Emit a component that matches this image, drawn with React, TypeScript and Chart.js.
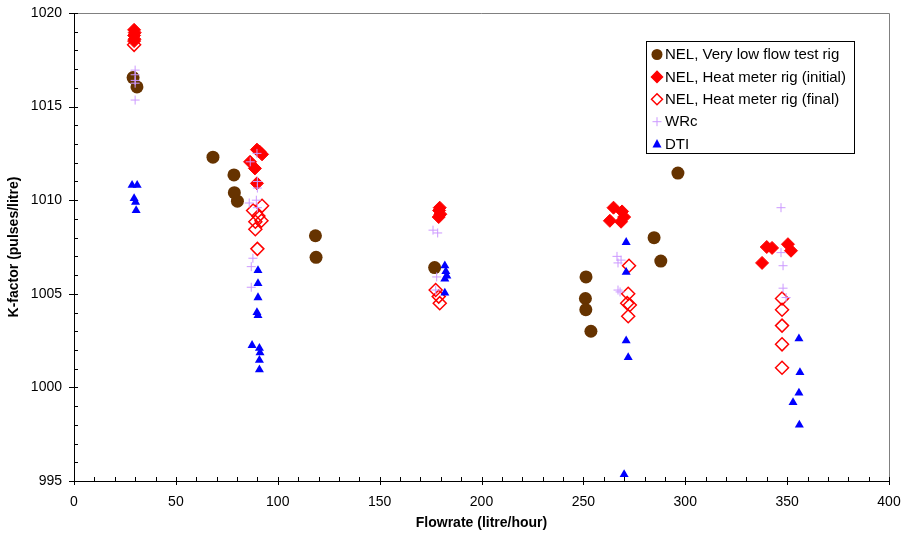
import React, { useEffect, useRef } from "react";
import { Chart, registerables } from "chart.js";
Chart.register(...registerables);

// ---- data ----
const X_MIN = 0, X_MAX = 400, X_STEP = 50, X_MINOR = 10;
const Y_MIN = 995, Y_MAX = 1020, Y_STEP = 5, Y_MINOR = 1;
const X_TITLE = "Flowrate (litre/hour)";
const Y_TITLE = "K-factor (pulses/litre)";

const SERIES_NAMES = [
  "NEL, Very low flow test rig",
  "NEL, Heat meter rig (initial)",
  "NEL, Heat meter rig (final)",
  "WRc",
  "DTI",
];

const vlfX = [29.0, 30.9, 68.2, 78.5, 78.7, 80.2, 118.5, 118.8, 177, 251.3, 251, 251.2, 253.7, 284.7, 288, 296.4];
const vlfY = [1016.55, 1016.05, 1012.3, 1011.35, 1010.4, 1009.95, 1008.1, 1006.95, 1006.4, 1005.9, 1004.75, 1004.15, 1003.0, 1008.0, 1006.75, 1011.45];

const initX = [29.5, 29.8, 29.5, 29.7, 29.5, 89.8, 92.3, 86.4, 88.8, 89.8, 91.0, 179.5, 179.2, 179.8, 179.0, 263, 264.8, 269, 270, 268.5, 337.7, 340, 342.6, 350.4, 351.9];
const initY = [1019.1, 1018.95, 1018.8, 1018.6, 1018.5, 1012.7, 1012.45, 1012.05, 1011.7, 1010.9, 1012.6, 1009.6, 1009.45, 1009.25, 1009.1, 1008.9, 1009.6, 1009.4, 1009.1, 1008.85, 1006.65, 1007.5, 1007.45, 1007.65, 1007.3];

const finalX = [29.5, 87.9, 92.3, 90.5, 89.0, 92.0, 89.0, 90.0, 177.5, 179.0, 179.5, 272.4, 272.0, 271.5, 272.8, 272.0, 347.5, 347.5, 347.5, 347.5, 347.5];
const finalY = [1018.3, 1009.45, 1009.7, 1009.15, 1008.85, 1008.9, 1008.45, 1007.4, 1005.2, 1004.85, 1004.5, 1006.5, 1005.0, 1004.5, 1004.4, 1003.8, 1004.75, 1004.15, 1003.3, 1002.3, 1001.05];

const wrcX = [30, 30, 30, 30, 30, 89.8, 86.5, 90, 90, 89.5, 86, 90, 87.8, 87, 87, 176.2, 178.5, 178, 177.5, 266.5, 268.5, 267, 267, 268, 347, 347, 348, 348, 349.5];
const wrcY = [1016.95, 1016.7, 1016.4, 1016.25, 1015.35, 1012.5, 1012.05, 1011.0, 1010.65, 1010.0, 1009.85, 1009.6, 1006.9, 1006.45, 1005.35, 1008.4, 1008.25, 1005.9, 1005.2, 1007.0, 1006.8, 1006.65, 1005.2, 1005.1, 1009.6, 1007.2, 1006.5, 1005.3, 1004.8];

const dtiX = [28.5, 31, 29.5, 30.2, 30.5, 90.3, 90.3, 90.3, 89.8, 90.3, 87.4, 91, 91.3, 91, 91, 182, 182.5, 183, 182, 182, 271, 271, 271, 272, 270, 355.8, 356.3, 355.8, 352.9, 356];
const dtiY = [1010.8, 1010.8, 1010.1, 1009.9, 1009.45, 1006.25, 1005.55, 1004.8, 1004.0, 1003.85, 1002.25, 1002.1, 1001.85, 1001.45, 1000.95, 1006.5, 1006.2, 1005.95, 1005.8, 1005.05, 1007.75, 1006.15, 1002.5, 1001.6, 995.35, 1002.6, 1000.8, 999.7, 999.2, 998.0];

const BROWN = "#663300";
const RED = "#ff0000";
const PLUM = "#cc99ff";
const BLUE = "#0000ff";
const FONT = "'Liberation Sans', Arial, sans-serif";

const pts = (xs: number[], ys: number[]) => xs.map((x, i) => ({ x, y: ys[i] }));

function drawMarker(ctx: CanvasRenderingContext2D, kind: number, x: number, y: number) {
  ctx.save();
  ctx.beginPath();
  if (kind === 0) {
    ctx.arc(x, y, 5.5, 0, Math.PI * 2);
    ctx.fillStyle = BROWN;
    ctx.fill();
  } else if (kind === 1 || kind === 2) {
    const r = 5.5;
    ctx.moveTo(x, y - r);
    ctx.lineTo(x + r, y);
    ctx.lineTo(x, y + r);
    ctx.lineTo(x - r, y);
    ctx.closePath();
    ctx.strokeStyle = RED;
    ctx.lineWidth = 1.5;
    if (kind === 1) {
      ctx.fillStyle = RED;
      ctx.fill();
    }
    ctx.stroke();
  } else if (kind === 3) {
    ctx.moveTo(x - 4.5, y);
    ctx.lineTo(x + 4.5, y);
    ctx.moveTo(x, y - 4.5);
    ctx.lineTo(x, y + 4.5);
    ctx.strokeStyle = PLUM;
    ctx.lineWidth = 1;
    ctx.stroke();
  } else {
    ctx.moveTo(x, y - 5);
    ctx.lineTo(x + 4.5, y + 3.5);
    ctx.lineTo(x - 4.5, y + 3.5);
    ctx.closePath();
    ctx.fillStyle = BLUE;
    ctx.fill();
  }
  ctx.restore();
}

const decorPlugin = {
  id: "decor",
  afterDraw(chart: any) {
    const ctx: CanvasRenderingContext2D = chart.ctx;
    const { left, right, top, bottom } = chart.chartArea;
    const xs = chart.scales.x;
    const ys = chart.scales.y;
    ctx.save();
    // gray top/right border
    ctx.strokeStyle = "#808080";
    ctx.lineWidth = 1;
    ctx.beginPath();
    ctx.moveTo(left, top + 0.5);
    ctx.lineTo(right + 0.5, top + 0.5);
    ctx.lineTo(right + 0.5, bottom);
    ctx.stroke();
    // ticks
    ctx.strokeStyle = "#000";
    ctx.beginPath();
    for (let v = Y_MIN; v <= Y_MAX + 1e-9; v += Y_MINOR) {
      const py = Math.round(ys.getPixelForValue(v)) + 0.5;
      const major = Math.abs((v - Y_MIN) % Y_STEP) < 1e-9;
      ctx.moveTo(left - (major ? 5 : 0), py);
      ctx.lineTo(left + 4, py);
    }
    for (let v = X_MIN; v <= X_MAX + 1e-9; v += X_MINOR) {
      const px = Math.round(xs.getPixelForValue(v)) + 0.5;
      const major = Math.abs((v - X_MIN) % X_STEP) < 1e-9;
      ctx.moveTo(px, bottom - 4);
      ctx.lineTo(px, bottom + (major ? 4 : 0));
    }
    ctx.stroke();

    // legend
    const bx = 646.5, by = 41.5, bw = 208, bh = 112;
    ctx.fillStyle = "#fff";
    ctx.fillRect(bx, by, bw, bh);
    ctx.strokeStyle = "#000";
    ctx.strokeRect(bx, by, bw, bh);
    ctx.font = `15px ${FONT}`;
    ctx.fillStyle = "#000";
    ctx.textBaseline = "middle";
    ctx.textAlign = "left";
    SERIES_NAMES.forEach((name, i) => {
      const cy = 54.5 + i * 22.4;
      drawMarker(ctx, i, 657, cy);
      ctx.fillText(name, 665, cy + 0.5);
    });
    ctx.restore();
  },
};

export default function App() {
  const ref = useRef<HTMLCanvasElement | null>(null);
  useEffect(() => {
    if (!ref.current) return;
    const tickFont = { family: FONT, size: 14 };
    const titleFont = { family: FONT, size: 14, weight: "bold" as const };
    const chart = new Chart(ref.current, {
      type: "scatter",
      data: {
        datasets: [
          {
            label: SERIES_NAMES[0],
            data: pts(vlfX, vlfY),
            pointStyle: "circle",
            pointRadius: 6.5,
            backgroundColor: BROWN,
            borderColor: BROWN,
            borderWidth: 0,
            order: 5,
          },
          {
            label: SERIES_NAMES[1],
            data: pts(initX, initY),
            pointStyle: "rectRot",
            pointRadius: 6.5,
            backgroundColor: RED,
            borderColor: RED,
            borderWidth: 1,
            order: 4,
          },
          {
            label: SERIES_NAMES[2],
            data: pts(finalX, finalY),
            pointStyle: "rectRot",
            pointRadius: 6.5,
            backgroundColor: "rgba(0,0,0,0)",
            borderColor: RED,
            borderWidth: 1.5,
            order: 3,
          },
          {
            label: SERIES_NAMES[3],
            data: pts(wrcX, wrcY),
            pointStyle: "cross",
            pointRadius: 4.5,
            backgroundColor: PLUM,
            borderColor: PLUM,
            borderWidth: 1,
            order: 2,
          },
          {
            label: SERIES_NAMES[4],
            data: pts(dtiX, dtiY),
            pointStyle: "triangle",
            pointRadius: 5.2,
            backgroundColor: BLUE,
            borderColor: BLUE,
            borderWidth: 0,
            order: 1,
          },
        ],
      },
      options: {
        animation: false,
        responsive: false,
        events: [],
        layout: { padding: { left: 0, top: 13, right: 12, bottom: 0 } },
        plugins: { legend: { display: false }, tooltip: { enabled: false } },
        scales: {
          x: {
            type: "linear",
            min: X_MIN,
            max: X_MAX,
            ticks: { stepSize: X_STEP, color: "#000", font: tickFont, padding: 13, maxRotation: 0, callback: (v: any) => String(v) },
            grid: { display: false, drawTicks: false },
            border: { display: true, color: "#000", width: 1 },
            title: { display: true, text: X_TITLE, color: "#000", font: titleFont, padding: { top: 4, bottom: 3.5 } },
            afterFit: (s: any) => { s.height = 54; s.paddingLeft = 0; s.paddingRight = 0; },
          },
          y: {
            type: "linear",
            min: Y_MIN,
            max: Y_MAX,
            ticks: { stepSize: Y_STEP, color: "#000", font: tickFont, padding: 12, callback: (v: any) => String(v) },
            grid: { display: false, drawTicks: false },
            border: { display: true, color: "#000", width: 1 },
            title: { display: true, text: Y_TITLE, color: "#000", font: titleFont, padding: { top: 5.5, bottom: 4 } },
            afterFit: (s: any) => { s.width = 74; s.paddingTop = 0; s.paddingBottom = 0; },
          },
        },
      },
      plugins: [decorPlugin],
    });
    return () => chart.destroy();
  }, []);
  return (
    <div style={{ position: "absolute", left: 0, top: 0, width: 901, height: 535, background: "#fff" }}>
      <canvas ref={ref} width={901} height={535} style={{ display: "block" }} />
    </div>
  );
}
